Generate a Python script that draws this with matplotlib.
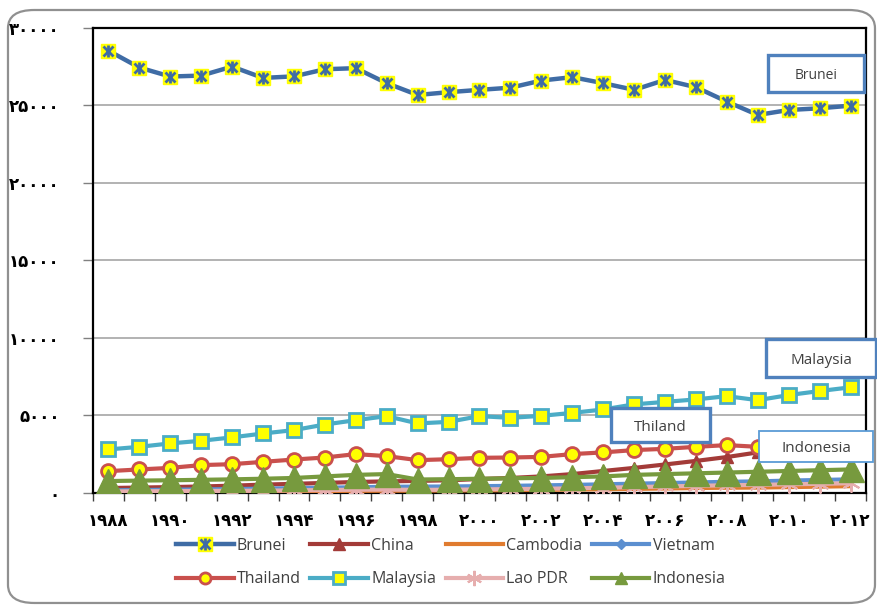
import numpy as np
import matplotlib.pyplot as plt
from matplotlib.patches import FancyBboxPatch, Rectangle

years = list(range(1988, 2013))

brunei = [28530, 27440, 26860, 26920, 27500, 26770, 26870, 27330, 27400, 26430,
          25670, 25850, 26000, 26140, 26600, 26820, 26430, 26000, 26640, 26170,
          25240, 24380, 24700, 24810, 24980]
china = [300, 330, 360, 400, 450, 520, 570, 630, 690, 730,
         760, 800, 880, 950, 1050, 1200, 1400, 1600, 1820, 2050,
         2300, 2600, 2900, 3200, 3500]
cambodia = [60, 65, 70, 75, 80, 90, 100, 110, 120, 125,
            130, 140, 150, 165, 180, 200, 220, 245, 270, 300,
            320, 330, 360, 390, 420]
vietnam = [150, 170, 190, 210, 230, 260, 290, 320, 350, 380,
           390, 400, 420, 440, 470, 500, 540, 580, 620, 660,
           700, 730, 780, 820, 860]
thailand = [1390, 1500, 1600, 1780, 1840, 1990, 2140, 2270, 2490, 2360,
            2100, 2160, 2250, 2270, 2310, 2490, 2600, 2750, 2830, 2960,
            3070, 2960, 3100, 3250, 3400]
malaysia = [2790, 2960, 3180, 3350, 3570, 3820, 4040, 4400, 4680, 4940,
            4470, 4570, 4940, 4830, 4960, 5150, 5370, 5700, 5860, 6020,
            6230, 5970, 6300, 6560, 6800]
lao = [80, 90, 100, 110, 120, 130, 150, 170, 190, 200,
       180, 190, 210, 230, 250, 280, 320, 360, 400, 440,
       480, 500, 540, 570, 610]
indonesia = [750, 780, 800, 830, 860, 900, 950, 1050, 1150, 1200,
             850, 870, 900, 930, 950, 1000, 1050, 1150, 1200, 1250,
             1300, 1350, 1400, 1450, 1500]

fa = str.maketrans('0123456789', '۰۱۲۳۴۵۶۷۸۹')
year_labels = [str(y).translate(fa) for y in years[::2]]
y_ticks = list(range(0, 30001, 5000))
y_labels = [str(v).translate(fa) for v in y_ticks]

fig = plt.figure(figsize=(8.77, 6.06), dpi=100)

# outer rounded frame
frame = FancyBboxPatch((0.0091, 0.005), 0.9886, 0.9785, boxstyle='round,pad=0,rounding_size=0.03',
                       transform=fig.transFigure, facecolor='white', edgecolor='#909090', lw=1.6, zorder=-5)
fig.patches.append(frame)

ax = fig.add_axes([0.106, 0.187, 0.8815, 0.767])
ax.set_zorder(1)
ax.patch.set_alpha(0)
x = np.arange(len(years))

bcol = '#3F6CA5'
l_bru, = ax.plot(x, brunei, color=bcol, lw=3.2, marker='s', ms=10, mfc='#FFFF00', mec='#FFFF00', zorder=3)
m_bru1, = ax.plot(x, brunei, ls='none', marker='x', ms=7.5, mec=bcol, mew=2, zorder=4)
m_bru2, = ax.plot(x, brunei, ls='none', marker='|', ms=8.5, mec=bcol, mew=2, zorder=4)
l_chi, = ax.plot(x, china, color='#A33B38', lw=3, marker='^', ms=9, mfc='#A33B38', mec='#A33B38', zorder=3)
l_cam, = ax.plot(x, cambodia, color='#E07B2F', lw=3, zorder=3)
l_vie, = ax.plot(x, vietnam, color='#5B8FD0', lw=3, marker='D', ms=5, mfc='#5B8FD0', mec='#5B8FD0', zorder=3)
l_tha, = ax.plot(x, thailand, color='#C9504D', lw=3, marker='o', ms=10, mfc='#FFFF00', mec='#C9504D', mew=2, zorder=3)
l_mal, = ax.plot(x, malaysia, color='#4BACC6', lw=3, marker='s', ms=10, mfc='#FFFF00', mec='#4BACC6', mew=2, zorder=3)
l_lao, = ax.plot(x, lao, color='#E6AEAE', lw=3, marker=(6, 2, 0), ms=13, mec='#E6AEAE', mew=1.5, zorder=3)
l_ind, = ax.plot(x, indonesia, color='#779A3E', lw=3, marker='^', ms=18, mfc='#779A3E', mec='#779A3E', zorder=3)

ax.set_xlim(-0.5, 24.5)
ax.set_ylim(0, 30000)
ax.set_yticks(y_ticks)
ax.set_yticklabels(y_labels, fontweight='bold', fontsize=12)
ax.tick_params(axis='y', length=7, width=1, color='#808080', pad=17)
ax.set_xticks(x[::2])
ax.set_xticklabels(year_labels, fontweight='bold', fontsize=12)
ax.set_xticks(np.arange(-0.5, 25, 1), minor=True)
ax.tick_params(axis='x', which='major', length=0, pad=14)
ax.tick_params(axis='x', which='minor', length=6, width=1, color='#404040')
ax.grid(axis='y', color='#A6A6A6', lw=1.2)
ax.set_axisbelow(True)
for s in ax.spines.values():
    s.set_color('black')
    s.set_linewidth(1.6)

handles = [(l_bru, m_bru1, m_bru2), l_tha, l_chi, l_mal, l_cam, l_lao, l_vie, l_ind]
labels = ['Brunei', 'Thailand', 'China', 'Malaysia', 'Cambodia', 'Lao PDR', 'Vietnam', 'Indonesia']
leg = fig.legend(handles, labels, loc='center', bbox_to_anchor=(0.514, 0.072), ncol=4, frameon=False,
                 prop={'family': 'Open Sans', 'size': 11.5}, handlelength=3.6, columnspacing=0.6,
                 labelspacing=1.1, handletextpad=0.2)
for t in leg.get_texts():
    t.set_color('#404040')
# smaller markers in the legend keys, as in the reference
for h in leg.legend_handles[1:]:
    h.set_markersize(8)
leg.legend_handles[5].set_markersize(11)
leg.legend_handles[6].set_markersize(5)
leg.legend_handles[7].set_markersize(9)

# label boxes
boxes = [
    ('Brunei', 0.8757, 0.8482, 0.1095, 0.0611, '#4F81BD', 2.4, 10),
    ('Malaysia', 0.8734, 0.3779, 0.1254, 0.0627, '#4F81BD', 2.4, 11),
    ('Thiland', 0.6967, 0.2706, 0.1129, 0.0561, '#4F81BD', 2.4, 11),
    ('Indonesia', 0.8655, 0.2376, 0.1300, 0.0512, '#5B9BD5', 1.3, 11),
]
for name, bx, by, bw, bh, ec, lw, fs in boxes:
    fig.patches.append(Rectangle((bx, by), bw, bh, transform=fig.transFigure,
                                 facecolor='white', edgecolor=ec, lw=lw, zorder=5))
    fig.text(bx + bw / 2, by + bh / 2 - 0.004, name, ha='center', va='center', fontsize=fs,
             family='Open Sans', color='#404040', zorder=6)

fig.savefig('out.png', dpi=100)
